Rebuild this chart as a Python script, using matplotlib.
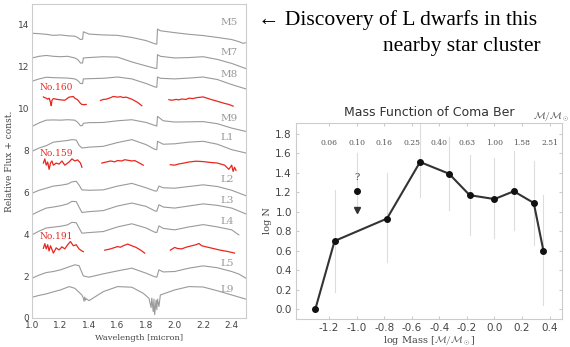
import numpy as np
import matplotlib.pyplot as plt

plt.rcParams['mathtext.fontset'] = 'cm'

# ---- spectra (left panel), wavelength in micron, flux + offset ----
spec_names = ['M5', 'M7', 'M8', 'M9', 'L1', 'L2', 'L3', 'L4', 'L5', 'L9']
spec_wl = {
    'M5': [1.0, 1.05, 1.1, 1.15, 1.2, 1.25, 1.3, 1.32, 1.34, 1.355, 1.36, 1.4, 1.5, 1.6, 1.7, 1.8, 1.86, 1.875, 1.88, 1.9, 2.0, 2.1, 2.2, 2.3, 2.35, 2.4, 2.45, 2.48, 2.5],
    'M7': [1.0, 1.05, 1.1, 1.15, 1.2, 1.25, 1.3, 1.32, 1.34, 1.355, 1.36, 1.4, 1.5, 1.6, 1.7, 1.8, 1.86, 1.875, 1.88, 1.9, 2.0, 2.1, 2.2, 2.3, 2.4, 2.5],
    'M8': [1.0, 1.05, 1.1, 1.15, 1.2, 1.25, 1.3, 1.32, 1.34, 1.355, 1.36, 1.4, 1.5, 1.6, 1.7, 1.8, 1.86, 1.875, 1.88, 1.9, 2.0, 2.1, 2.2, 2.3, 2.4, 2.5],
    'M9': [1.0, 1.05, 1.1, 1.15, 1.2, 1.25, 1.3, 1.32, 1.34, 1.355, 1.36, 1.4, 1.5, 1.6, 1.7, 1.8, 1.86, 1.875, 1.88, 1.92, 2.0, 2.1, 2.2, 2.3, 2.4, 2.5],
    'L1': [1.0, 1.05, 1.1, 1.15, 1.2, 1.25, 1.28, 1.31, 1.33, 1.35, 1.4, 1.5, 1.6, 1.7, 1.8, 1.86, 1.875, 1.88, 1.92, 2.0, 2.1, 2.2, 2.3, 2.4, 2.5],
    'L2': [1.0, 1.05, 1.1, 1.15, 1.2, 1.25, 1.28, 1.31, 1.33, 1.35, 1.4, 1.5, 1.6, 1.7, 1.8, 1.86, 1.875, 1.89, 1.92, 2.0, 2.1, 2.2, 2.3, 2.4, 2.5],
    'L3': [1.0, 1.05, 1.1, 1.15, 1.2, 1.25, 1.28, 1.31, 1.33, 1.35, 1.4, 1.5, 1.6, 1.7, 1.8, 1.86, 1.875, 1.89, 1.92, 2.0, 2.1, 2.2, 2.3, 2.4, 2.5],
    'L4': [1.0, 1.05, 1.1, 1.15, 1.2, 1.25, 1.28, 1.31, 1.33, 1.35, 1.4, 1.5, 1.6, 1.7, 1.8, 1.86, 1.875, 1.89, 1.92, 2.0, 2.1, 2.2, 2.3, 2.4, 2.45],
    'L5': [1.0, 1.05, 1.1, 1.15, 1.2, 1.25, 1.3, 1.33, 1.36, 1.4, 1.5, 1.6, 1.7, 1.8, 1.86, 1.875, 1.89, 1.92, 2.0, 2.1, 2.2, 2.3, 2.4, 2.45, 2.5],
    'L9': [1.0, 1.05, 1.1, 1.15, 1.2, 1.26, 1.3, 1.35, 1.36, 1.365, 1.37, 1.375, 1.38, 1.4, 1.5, 1.6, 1.7, 1.78, 1.82, 1.835, 1.84, 1.85, 1.855, 1.86, 1.87, 1.875, 1.88, 1.89, 1.9, 2.0, 2.1, 2.2, 2.3, 2.4, 2.5],
}
spec_flux = {
    'M5': [13.6, 13.58, 13.55, 13.5, 13.52, 13.48, 13.46, 13.4, 13.3, 13.32, 13.67, 13.56, 13.52, 13.5, 13.4, 13.25, 13.1, 13.08, 13.8, 13.72, 13.63, 13.55, 13.49, 13.4, 13.35, 13.3, 13.2, 13.12, 13.15],
    'M7': [12.42, 12.5, 12.54, 12.5, 12.48, 12.5, 12.42, 12.35, 12.18, 12.18, 12.42, 12.44, 12.48, 12.46, 12.23, 12.04, 11.93, 11.92, 12.58, 12.5, 12.42, 12.44, 12.48, 12.35, 12.16, 11.91],
    'M8': [11.31, 11.42, 11.5, 11.48, 11.47, 11.46, 11.42, 11.35, 11.2, 11.2, 11.42, 11.43, 11.45, 11.51, 11.42, 11.2, 11.04, 11.02, 11.51, 11.45, 11.42, 11.46, 11.51, 11.39, 11.15, 10.94],
    'M9': [9.15, 9.32, 9.45, 9.46, 9.45, 9.47, 9.45, 9.35, 9.18, 9.2, 9.3, 9.33, 9.34, 9.42, 9.47, 9.34, 9.2, 9.17, 9.63, 9.42, 9.36, 9.37, 9.38, 9.28, 9.07, 8.91],
    'L1': [7.96, 8.12, 8.23, 8.4, 8.44, 8.48, 8.52, 8.5, 8.25, 8.12, 8.16, 8.2, 8.38, 8.52, 8.28, 8.06, 8.04, 8.44, 8.3, 8.32, 8.4, 8.44, 8.3, 8.04, 7.88],
    'L2': [5.96, 6.1, 6.2, 6.3, 6.34, 6.4, 6.5, 6.53, 6.35, 6.12, 6.1, 6.12, 6.3, 6.43, 6.22, 6.07, 6.06, 6.3, 6.22, 6.2, 6.28, 6.36, 6.28, 6.1, 5.84],
    'L3': [4.93, 5.1, 5.25, 5.3, 5.36, 5.45, 5.57, 5.56, 5.3, 5.04, 5.08, 5.13, 5.35, 5.49, 5.33, 5.12, 5.1, 5.41, 5.3, 5.25, 5.35, 5.45, 5.38, 5.25, 4.97],
    'L4': [3.97, 4.15, 4.3, 4.34, 4.38, 4.45, 4.57, 4.55, 4.3, 4.05, 4.08, 4.13, 4.35, 4.5, 4.3, 4.1, 4.08, 4.4, 4.28, 4.21, 4.35, 4.46, 4.35, 4.21, 3.97],
    'L5': [1.9, 2.05, 2.17, 2.22, 2.3, 2.42, 2.54, 2.5, 2.01, 1.95, 2.11, 2.25, 2.38, 2.14, 1.97, 1.95, 2.3, 2.2, 2.22, 2.38, 2.49, 2.4, 2.22, 2.1, 1.9],
    'L9': [0.99, 1.08, 1.15, 1.25, 1.34, 1.5, 1.42, 1.1, 0.95, 0.8, 1.0, 0.85, 0.92, 0.83, 1.26, 1.5, 1.47, 1.18, 0.94, 0.5, 0.95, 0.3, 0.9, 0.16, 0.85, 0.4, 0.9, 0.55, 1.1, 1.34, 1.5, 1.48, 1.3, 1.1, 0.9],
}
spec_label_y = [14.1, 12.66, 11.63, 9.55, 8.6, 6.6, 5.61, 4.61, 2.62, 1.34]

# ---- Coma Ber candidates (red), three segments each ----
red_names = ['No.160', 'No.159', 'No.191']
red_label_y = [10.99, 7.88, 3.89]
red_wl = {
    'No.160': [[1.08, 1.09, 1.1, 1.11, 1.12, 1.13, 1.135, 1.14, 1.15, 1.17, 1.2, 1.23, 1.26, 1.29, 1.3, 1.32, 1.34, 1.35, 1.36, 1.38],
               [1.48, 1.5, 1.52, 1.55, 1.57, 1.6, 1.62, 1.64, 1.66, 1.7, 1.74, 1.77],
               [1.96, 1.98, 2.01, 2.03, 2.05, 2.08, 2.1, 2.13, 2.15, 2.2, 2.25, 2.3, 2.35, 2.38, 2.41]],
    'No.159': [[1.08, 1.09, 1.1, 1.11, 1.12, 1.13, 1.14, 1.15, 1.17, 1.19, 1.21, 1.23, 1.26, 1.28, 1.3, 1.32, 1.34, 1.35],
               [1.49, 1.52, 1.55, 1.58, 1.6, 1.63, 1.65, 1.7, 1.72, 1.74, 1.78],
               [1.97, 2.0, 2.03, 2.05, 2.1, 2.15, 2.2, 2.25, 2.3, 2.35, 2.38, 2.4, 2.41, 2.42, 2.43]],
    'No.191': [[1.08, 1.09, 1.1, 1.11, 1.12, 1.13, 1.15, 1.17, 1.19, 1.21, 1.23, 1.25, 1.27, 1.29, 1.31, 1.33, 1.35, 1.36],
               [1.51, 1.55, 1.6, 1.62, 1.64, 1.67, 1.7, 1.73, 1.76, 1.79],
               [1.97, 2.0, 2.02, 2.05, 2.08, 2.12, 2.15, 2.17, 2.19, 2.22, 2.27, 2.32, 2.37, 2.42]],
}
red_flux = {
    'No.160': [[10.56, 10.52, 10.5, 10.45, 10.5, 10.3, 10.14, 10.4, 10.48, 10.45, 10.42, 10.4, 10.55, 10.58, 10.5, 10.42, 10.25, 10.2, 10.19, 10.2],
               [10.39, 10.44, 10.45, 10.52, 10.58, 10.55, 10.57, 10.53, 10.55, 10.45, 10.3, 10.14],
               [10.43, 10.4, 10.44, 10.42, 10.46, 10.44, 10.5, 10.48, 10.52, 10.56, 10.45, 10.35, 10.25, 10.2, 10.12]],
    'No.159': [[7.4, 7.6, 7.3, 7.45, 7.1, 7.4, 7.5, 7.3, 7.4, 7.35, 7.5, 7.3, 7.45, 7.6, 7.5, 7.55, 7.4, 7.2],
               [7.4, 7.45, 7.5, 7.46, 7.52, 7.5, 7.56, 7.5, 7.52, 7.45, 7.3],
               [7.32, 7.3, 7.36, 7.38, 7.45, 7.49, 7.47, 7.43, 7.4, 7.3, 7.1, 7.3, 7.0, 7.2, 7.05]],
    'No.191': [[3.33, 3.55, 3.3, 3.5, 3.2, 3.45, 3.1, 3.35, 3.25, 3.4, 3.3, 3.5, 3.65, 3.45, 3.5, 3.3, 3.2, 3.17],
               [3.24, 3.3, 3.41, 3.38, 3.45, 3.53, 3.45, 3.37, 3.25, 3.1],
               [3.24, 3.37, 3.32, 3.3, 3.38, 3.45, 3.5, 3.56, 3.45, 3.4, 3.32, 3.24, 3.18, 3.1]],
}

# ---- mass function (right panel) ----
log_mass = [-1.3, -1.16, -0.78, -0.54, -0.33, -0.18, 0.0, 0.14, 0.285, 0.355]
log_n = [0.0, 0.70, 0.93, 1.51, 1.39, 1.17, 1.13, 1.21, 1.09, 0.60]
err_lo = [0.0, 0.18, 0.48, 1.15, 1.02, 0.76, 0.73, 0.81, 0.66, 0.04]
err_hi = [0.0, 1.22, 1.40, 1.90, 1.77, 1.58, 1.55, 1.62, 1.52, 1.17]
limit_x = -1.0
limit_y = 1.21
limit_range = [0.99, 1.60]
top_ticks = [-1.2, -1.0, -0.8, -0.6, -0.4, -0.2, 0.0, 0.2, 0.4]
top_labels = ['0.06', '0.10', '0.16', '0.25', '0.40', '0.63', '1.00', '1.58', '2.51']

gray = '#9a9a9a'
red = '#e8271f'
spine_c = '#cccccc'
tick_c = '#444444'

fig = plt.figure(figsize=(5.7, 3.47), dpi=100)

# left panel
ax1 = fig.add_axes([0.0561, 0.0836, 0.3754, 0.905])
for name, ly in zip(spec_names, spec_label_y):
    ax1.plot(spec_wl[name], spec_flux[name], color=gray, lw=0.8)
    ax1.text(2.32, ly, name, color='#999999', fontsize=7.5, family='DejaVu Serif', va='center')
for name, ly in zip(red_names, red_label_y):
    for w, f in zip(red_wl[name], red_flux[name]):
        ax1.plot(w, f, color=red, lw=0.9)
    ax1.text(1.05, ly, name, color=red, fontsize=6.5, family='DejaVu Serif', va='center')
ax1.set_xlim(1.0, 2.5)
ax1.set_ylim(0, 15)
ax1.set_xticks(np.arange(1.0, 2.41, 0.2))
ax1.set_yticks(np.arange(0, 15, 2))
ax1.tick_params(labelsize=6.5, labelcolor=tick_c, length=0, pad=2)
ax1.set_xlabel('Wavelength [micron]', fontsize=6, family='DejaVu Serif', color='#444444', labelpad=3)
ax1.set_ylabel('Relative Flux + const.', fontsize=6.5, family='DejaVu Serif', color='#444444', labelpad=3)
for s in ax1.spines.values():
    s.set_color(spine_c)

# right panel
ax2 = fig.add_axes([0.5193, 0.0807, 0.4667, 0.5648])
for x, lo, hi in zip(log_mass, err_lo, err_hi):
    if hi > lo:
        ax2.plot([x, x], [lo, hi], color='#dddddd', lw=0.8, zorder=1)
ax2.plot([limit_x, limit_x], limit_range, color='#dddddd', lw=0.8, zorder=1)
ax2.plot(log_mass, log_n, color='#333333', lw=1.5, marker='o', ms=4, mfc='#111111', mec='#111111', zorder=3)
ax2.plot(limit_x, limit_y, 'o', color='#111111', ms=4, zorder=3)
ax2.plot(limit_x, 1.02, 'v', color='#333333', ms=4, zorder=3)
ax2.text(limit_x, 1.35, '?', ha='center', va='center', fontsize=7, color='#444444', family='DejaVu Serif')
for t, lab in zip(top_ticks, top_labels):
    ax2.text(t, 1.70, lab, ha='center', va='center', fontsize=5.5, color='#555555', family='DejaVu Serif')
ax2.set_xlim(-1.44, 0.49)
ax2.set_ylim(-0.1, 1.91)
ax2.set_xticks(np.arange(-1.2, 0.41, 0.2))
ax2.set_yticks(np.arange(0, 1.81, 0.2))
ax2.set_xticklabels(['%.1f' % v if abs(v) > 1e-9 else '0.0' for v in np.arange(-1.2, 0.41, 0.2)])
ax2.tick_params(labelsize=7.5, labelcolor=tick_c, direction='in', length=2, color=spine_c,
                right=True, top=True, pad=3)
ax2.set_xlabel(r'log Mass [$\mathcal{M}/\mathcal{M}_\odot$]', fontsize=7, family='DejaVu Serif', color='#444444', labelpad=1)
ax2.set_ylabel('log N', fontsize=7, family='DejaVu Serif', color='#444444', labelpad=2)
ax2.set_title('Mass Function of Coma Ber', fontsize=9, color='#333333', pad=5)
for s in ax2.spines.values():
    s.set_color(spine_c)
fig.text(0.967, 0.662, r'$\mathcal{M}/\mathcal{M}_\odot$', fontsize=7, color='#444444', ha='center', va='center')

# annotation text
fig.text(0.452, 0.942, '\u2190 Discovery of L dwarfs in this', fontsize=15.5, family='Liberation Serif', va='center', ha='left')
fig.text(0.948, 0.865, 'nearby star cluster', fontsize=15.5, family='Liberation Serif', va='center', ha='right')

fig.savefig('out.png', dpi=100)
